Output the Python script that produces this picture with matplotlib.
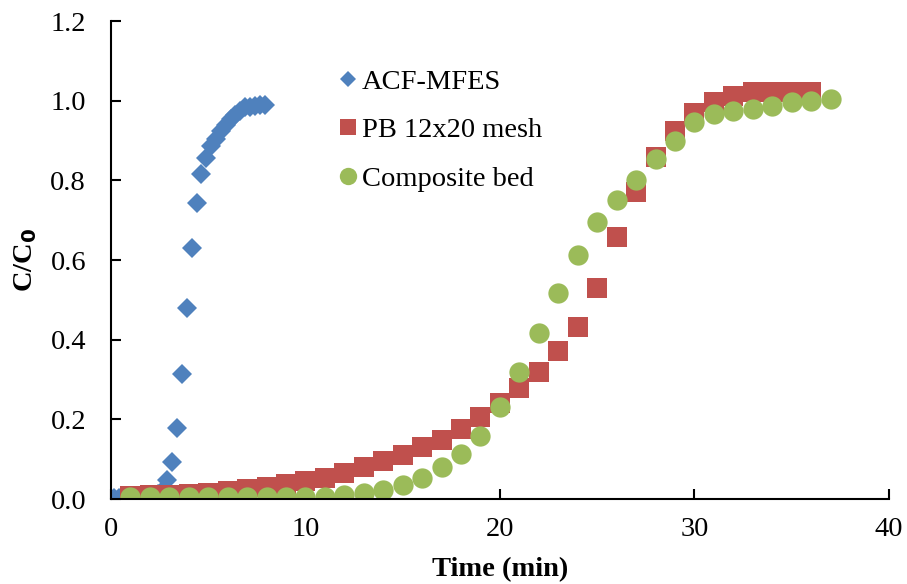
import numpy as np
import matplotlib.pyplot as plt
from matplotlib.lines import Line2D

plt.rcParams['font.family'] = ['Liberation Serif', 'DejaVu Serif']

# ACF-MFES (blue diamonds)
acf_t = [0.15, 0.4, 0.65, 0.9, 1.15, 1.4, 1.65, 1.9, 2.15, 2.4, 2.65,
         2.9, 3.15, 3.4, 3.65, 3.9, 4.15, 4.4, 4.65, 4.9, 5.15, 5.4, 5.65,
         5.9, 6.15, 6.4, 6.65, 6.9, 7.15, 7.4, 7.65, 7.9]
acf_c = [0.003, 0.003, 0.003, 0.003, 0.004, 0.004, 0.005, 0.006, 0.008, 0.012, 0.022,
         0.048, 0.094, 0.178, 0.314, 0.479, 0.631, 0.744, 0.816, 0.857, 0.887, 0.905, 0.925,
         0.94, 0.953, 0.965, 0.975, 0.983, 0.985, 0.987, 0.988, 0.99]

# PB 12x20 mesh (red squares)
pb_t = list(range(1, 37))
pb_c = [0.008, 0.009, 0.011, 0.013, 0.016, 0.02, 0.024, 0.03, 0.037, 0.045,
        0.053, 0.065, 0.08, 0.095, 0.111, 0.131, 0.149, 0.176, 0.207, 0.24,
        0.278, 0.318, 0.372, 0.431, 0.529, 0.657, 0.77, 0.858, 0.923, 0.969,
        0.996, 1.012, 1.021, 1.021, 1.022, 1.022]

# Composite bed (green circles)
cb_t = list(range(1, 38))
cb_c = [0.005, 0.005, 0.005, 0.005, 0.005, 0.005, 0.005, 0.005, 0.005, 0.005,
        0.006, 0.01, 0.016, 0.023, 0.035, 0.054, 0.08, 0.113, 0.158, 0.23,
        0.318, 0.418, 0.517, 0.613, 0.695, 0.751, 0.8, 0.853, 0.9, 0.946,
        0.967, 0.973, 0.98, 0.987, 0.997, 0.998, 1.004]

labels = ['ACF-MFES', 'PB 12x20 mesh', 'Composite bed']
colors = ['#4F81BD', '#C0504D', '#9BBB59']

fig = plt.figure(figsize=(9.07, 5.84), dpi=100)
ax = fig.add_axes([0.1224, 0.1455, 0.8576, 0.8185])

ax.plot(acf_t, acf_c, 'D', ms=10.2, mew=0, color=colors[0], ls='none')
ax.plot(pb_t, pb_c, 's', ms=14.4, mew=0, color=colors[1], ls='none')
ax.plot(cb_t, cb_c, 'o', ms=14.6, mew=0, color=colors[2], ls='none')

ax.set_xlim(0, 40)
ax.set_ylim(0, 1.2)
ax.set_xticks([0, 10, 20, 30, 40])
ax.set_yticks(np.arange(0, 1.21, 0.2))
ax.set_yticklabels(['%.1f' % v for v in np.arange(0, 1.21, 0.2)])
ax.spines['top'].set_visible(False)
ax.spines['right'].set_visible(False)
for s in ['left', 'bottom']:
    ax.spines[s].set_linewidth(1.5)
ax.tick_params(direction='in', length=7, width=1.5, labelsize=20.5)
ax.tick_params(axis='x', pad=13)
ax.tick_params(axis='y', pad=18)

ax.set_xlabel('Time (min)', fontsize=20.5, fontweight='bold', labelpad=11)
ax.set_ylabel('C/C$_\\mathbf{0}$', fontsize=20.5, fontweight='bold', labelpad=8)

handles = [Line2D([], [], marker='D', ms=8.5, mew=0, color=colors[0], ls='none'),
           Line2D([], [], marker='s', ms=12, mew=0, color=colors[1], ls='none'),
           Line2D([], [], marker='o', ms=12.5, mew=0, color=colors[2], ls='none')]
ax.legend(handles, labels, loc='upper left', bbox_to_anchor=(0.275, 0.93),
          frameon=False, fontsize=20.5, handlelength=0.6, handletextpad=0.2,
          labelspacing=0.8, borderpad=0)

fig.savefig('out.png', dpi=100)
